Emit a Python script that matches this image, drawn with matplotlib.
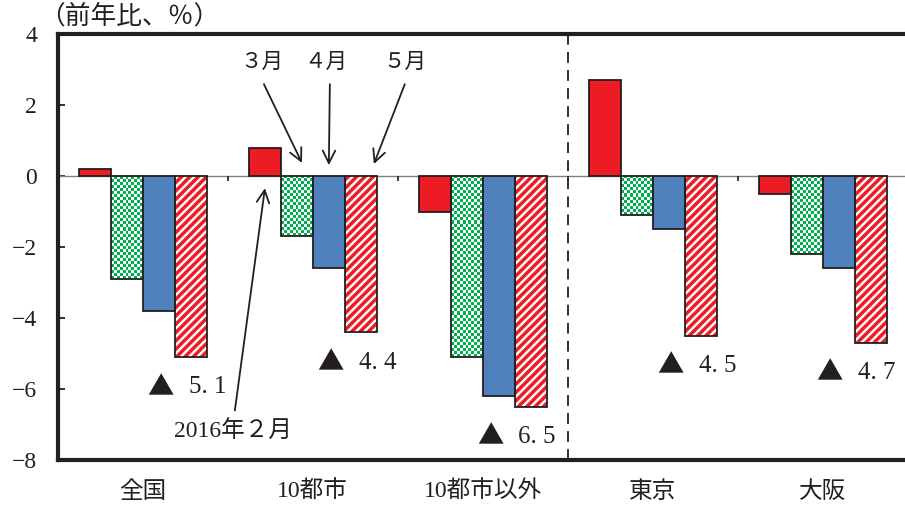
import matplotlib.pyplot as plt
import numpy as np
from matplotlib.colors import to_rgb

plt.rcParams['font.family'] = ['Liberation Serif', 'Noto Sans CJK JP']
plt.rcParams['hatch.linewidth'] = 2.5

regions = ['全国', '10都市', '10都市以外', '東京', '大阪']
feb = [0.2, 0.8, -1.0, 2.7, -0.5]
mar = [-2.9, -1.7, -5.1, -1.1, -2.2]
apr = [-3.8, -2.6, -6.2, -1.5, -2.6]
may = [-5.1, -4.4, -6.5, -4.5, -4.7]
yticks = [4, 2, 0, -2, -4, -6, -8]

# small nudges for the May value labels
label_shift = [0, 0, -0.06, 0, -0.065]

edge = '#231f20'
red = '#ed1c24'
blue = '#4f81bd'
green = to_rgb('#00b050')

fig = plt.figure(figsize=(9.05, 5.09), dpi=100)
ax = fig.add_axes([0.064, 0.096, 0.939, 0.837])

x = np.arange(len(regions))
w = 0.188

ax.bar(x - 1.5*w, feb, w, color=red, edgecolor=edge, lw=1.3, zorder=4)

# March: checkerboard fill clipped to each bar
bars = ax.bar(x - 0.5*w, mar, w, facecolor='none', edgecolor=edge, lw=1.3, zorder=4)
for rect in bars:
    x0, y0 = rect.get_x(), rect.get_y()
    bw, bh = rect.get_width(), rect.get_height()
    ny = max(1, int(round(abs(bh) / 0.085)))
    ii, jj = np.indices((ny, 11))
    mask = ((ii + jj) % 2)[..., None]
    img = np.where(mask == 1, np.array(green), np.ones(3))
    im = ax.imshow(img, extent=(x0, x0 + bw, y0 + bh, y0), aspect='auto',
                   interpolation='nearest', zorder=3)
    im.set_clip_path(rect)

ax.bar(x + 0.5*w, apr, w, color=blue, edgecolor=edge, lw=1.3, zorder=4)

# May: red diagonal stripes
ax.bar(x + 1.5*w, may, w, facecolor='white', edgecolor=red, hatch='////', lw=0, zorder=3)
ax.bar(x + 1.5*w, may, w, facecolor='none', edgecolor=edge, lw=1.3, zorder=4)

ax.set_xlim(-0.5, 4.5)
ax.set_ylim(-8, 4)

ax.axhline(0, color='#808080', lw=1, zorder=2)
ax.vlines(x[:-1] + 0.5, -0.13, 0, color=edge, lw=1.2, zorder=2)
ax.axvline(2.5, color=edge, lw=1.3, ls=(0, (6, 4)), zorder=1)

# value labels under the May bars
for i, v in enumerate(may):
    pos = (x[i] + 1.5*w + label_shift[i], v - 0.85)
    ax.annotate('▲', pos, xytext=(-22, 0), textcoords='offset points',
                ha='center', va='center', fontsize=19, color=edge,
                family='Noto Sans CJK JP')
    ax.annotate(f'{abs(v):.1f}'.replace('.', '. '), pos, xytext=(-1.5, 0),
                textcoords='offset points', ha='left', va='center',
                fontsize=18, color=edge)

arrow = dict(arrowstyle='->,head_length=0.9,head_width=0.45', color=edge, lw=1.3,
             shrinkA=0, shrinkB=0)
ax.text(0.70, 3.18, '３月', ha='center', va='center', fontsize=15.5, color=edge)
ax.annotate('', xy=(1 - 0.5*w + 0.03, 0.37), xytext=(0.712, 2.59), arrowprops=arrow)
ax.text(1.076, 3.18, '４月', ha='center', va='center', fontsize=15.5, color=edge)
ax.annotate('', xy=(1 + 0.5*w, 0.31), xytext=(1.10, 2.59), arrowprops=arrow)
ax.text(1.541, 3.18, '５月', ha='center', va='center', fontsize=15.5, color=edge)
ax.annotate('', xy=(1 + 1.5*w + 0.077, 0.34), xytext=(1.541, 2.59), arrowprops=arrow)
ax.text(0.529, -7.21, '2016年２月', ha='center', va='center', fontsize=17, color=edge)
ax.annotate('', xy=(1 - 1.5*w, -0.34), xytext=(0.541, -6.6), arrowprops=arrow)

ax.set_yticks(yticks)
ax.tick_params(axis='y', direction='in', length=5, width=1.3, pad=15,
               labelsize=17, colors=edge)
ax.set_xticks(x, regions)
ax.tick_params(axis='x', length=0, pad=15, labelsize=17, colors=edge)

for side in ['left', 'top', 'bottom']:
    ax.spines[side].set_linewidth(3)
    ax.spines[side].set_color(edge)
ax.spines['right'].set_visible(False)

fig.text(0.043, 0.968, '（前年比、％）', fontsize=18.5, va='center', color=edge)

fig.savefig('out.png', dpi=100)
